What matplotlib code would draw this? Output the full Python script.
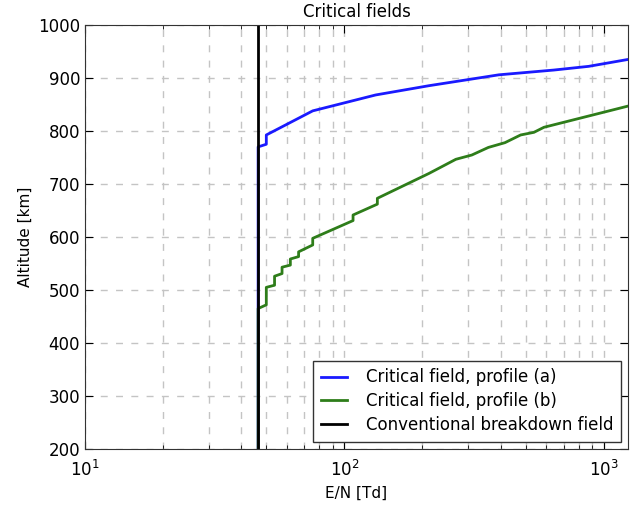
import matplotlib
matplotlib.use("Agg")
import matplotlib.pyplot as plt
from matplotlib.ticker import LogLocator

# Data (E/N in Td, altitude in km)
en_a = [46.5, 46.5, 50, 50, 75.5, 132, 212, 394, 642, 875, 1240]
alt_a = [200, 770, 775, 792.5, 838, 868, 885.5, 906, 915, 922, 935]

en_b = [46.5, 46.5, 50, 50, 53.8, 53.8, 57.5, 57.5, 61.9, 61.9, 66.6, 66.6,
        75.5, 75.5, 108, 108, 134, 134, 212, 269, 310, 359, 416, 478, 538,
        588, 1240]
alt_b = [200, 465, 472, 505, 509, 526, 531, 543, 547, 558.5, 563, 572,
         585, 597.5, 631, 641.5, 662, 673, 720, 746.6, 754.7, 769, 778,
         792.5, 797.5, 807, 847]

en_conv = [46.3, 46.3]
alt_conv = [200, 1000]

labels = ["Critical field, profile (a)", "Critical field, profile (b)",
          "Conventional breakdown field"]

plt.rcParams['font.family'] = ['DejaVu Sans']
fig = plt.figure(figsize=(6.38, 5.05), dpi=100)
ax = fig.add_axes([85/638, 1-449/505, (628-85)/638, (449-25)/505])

ax.plot(en_a, alt_a, color='#1a1aff', lw=2, label=labels[0])
ax.plot(en_b, alt_b, color='#2e7d1a', lw=2, label=labels[1])
ax.plot(en_conv, alt_conv, color='black', lw=2, label=labels[2])

ax.set_xscale('log')
ax.set_xlim(10, 1240)
ax.set_ylim(200, 1000)
ax.set_yticks(range(200, 1001, 100))
ax.xaxis.set_minor_locator(LogLocator(base=10, subs=range(2, 10)))

ax.grid(True, which='both', axis='x', color='#c4c4c4', linestyle=(0, (5, 6)), lw=1)
ax.grid(True, which='major', axis='y', color='#c4c4c4', linestyle=(0, (5, 6)), lw=1)
ax.set_axisbelow(True)

ax.tick_params(which='both', direction='in', top=True, right=True, labelsize=12)
ax.tick_params(which='major', length=6)
ax.tick_params(which='minor', length=3)
ax.tick_params(axis='x', which='both', pad=8)
for s in ax.spines.values():
    s.set_color('#333333')

ax.set_title("Critical fields", fontsize=12)
ax.set_xlabel("E/N [Td]", fontsize=11)
ax.set_ylabel("Altitude [km]", fontsize=11)

leg = ax.legend(loc='lower right', fontsize=12, fancybox=False, framealpha=1,
                edgecolor='#333333', borderaxespad=0.45, handlelength=1.6,
                handletextpad=1.1, labelspacing=0.35, borderpad=0.45)
leg.get_frame().set_linewidth(1)

fig.savefig("out.png", dpi=100)
